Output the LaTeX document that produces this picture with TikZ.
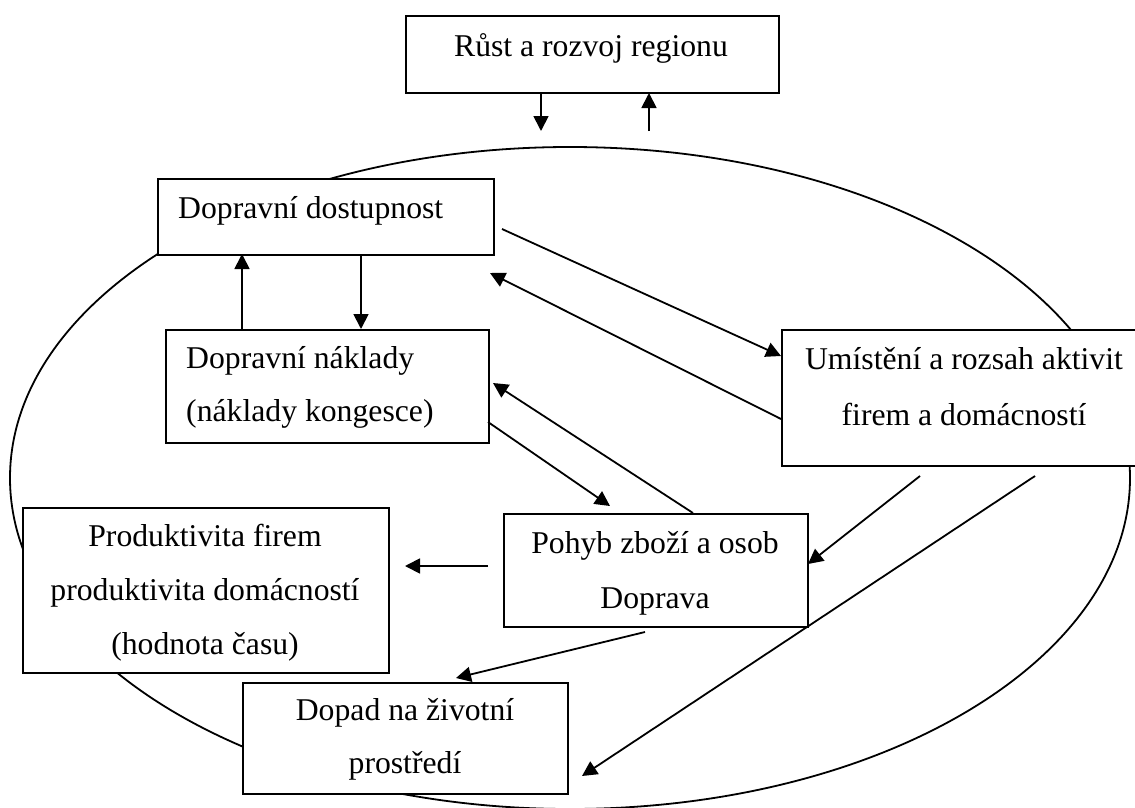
\documentclass[tikz,border=0pt]{standalone}
\usepackage{fontspec}
\setmainfont{Liberation Serif}
\usetikzlibrary{arrows.meta}
\begin{document}
\begin{tikzpicture}[x=1pt,y=-1pt,
  box/.style={draw, line width=1.9pt, fill=white, inner sep=0pt, anchor=north west},
  lbl/.style={anchor=base, inner sep=0pt, font=\fontsize{31.7}{38}\selectfont},
  lblw/.style={lbl, anchor=base west},
  arr/.style={line width=1.8pt, -{Triangle[length=15pt,width=15pt]}}]
\clip (0,0) rectangle (1135,808);
\fill[white] (0,0) rectangle (1135,808);

% surrounding ellipse
\draw[line width=1.8pt] (570,478) ellipse [x radius=560, y radius=331];

% boxes
\node[box, minimum width=373pt, minimum height=77pt]  (rust)   at (405,15)  {};
\node[box, minimum width=336pt, minimum height=76pt]  (dost)   at (157,178) {};
\node[box, minimum width=323pt, minimum height=113pt] (nakl)   at (165,329) {};
\node[box, minimum width=366pt, minimum height=136pt] (umist)  at (781,329) {};
\node[box, minimum width=304pt, minimum height=113pt] (pohyb)  at (503,513) {};
\node[box, minimum width=366pt, minimum height=165pt] (prod)   at (22,507)  {};
\node[box, minimum width=325pt, minimum height=111pt] (dopad)  at (242,682) {};

% labels
\node[lbl]  (trust)  at (591,57)  {Růst a rozvoj regionu};
\node[lblw] (tdost)  at (178,218) {Dopravní dostupnost};
\node[lblw] (tnakl1) at (186,368) {Dopravní náklady};
\node[lblw] (tnakl2) at (186,421) {(náklady kongesce)};
\node[lbl]  (tumi1)  at (964,369) {Umístění a rozsah aktivit};
\node[lbl]  (tumi2)  at (964,425) {firem a domácností};
\node[lbl]  (tpoh1)  at (655,553) {Pohyb zboží a osob};
\node[lbl]  (tpoh2)  at (655,608) {Doprava};
\node[lbl]  (tprod1) at (205,546) {Produktivita firem};
\node[lbl]  (tprod2) at (205,600) {produktivita domácností};
\node[lbl]  (tprod3) at (205,654) {(hodnota času)};
\node[lbl]  (tdop1)  at (405,720) {Dopad na životní};
\node[lbl]  (tdop2)  at (405,773) {prostředí};

% connector end points
\coordinate (a1s) at (541,93);   \coordinate (a1e) at (541,131);
\coordinate (a2s) at (649,131);  \coordinate (a2e) at (649,93);
\coordinate (a3s) at (361,254);  \coordinate (a3e) at (361,329);
\coordinate (a4s) at (242,329);  \coordinate (a4e) at (242,254);
\coordinate (a5s) at (502,229);  \coordinate (a5e) at (781,356);
\coordinate (a6s) at (781,419);  \coordinate (a6e) at (490,273);
\coordinate (a7s) at (693,513);  \coordinate (a7e) at (493,383);
\coordinate (a8s) at (488,422);  \coordinate (a8e) at (610,506);
\coordinate (a9s) at (488,566);  \coordinate (a9e) at (405,566);
\coordinate (a10s) at (920,476); \coordinate (a10e) at (808,564);
\coordinate (a11s) at (1035,476);\coordinate (a11e) at (582,776);
\coordinate (a12s) at (645,632); \coordinate (a12e) at (456,678);

% connectors
\draw[arr] (a1s) -- (a1e);
\draw[arr] (a2s) -- (a2e);
\draw[arr] (a3s) -- (a3e);
\draw[arr] (a4s) -- (a4e);
\draw[arr] (a5s) -- (a5e);
\draw[arr] (a6s) -- (a6e);
\draw[arr] (a7s) -- (a7e);
\draw[arr] (a8s) -- (a8e);
\draw[arr] (a9s) -- (a9e);
\draw[arr] (a10s) -- (a10e);
\draw[arr] (a11s) -- (a11e);
\draw[arr] (a12s) -- (a12e);
\end{tikzpicture}
\end{document}
